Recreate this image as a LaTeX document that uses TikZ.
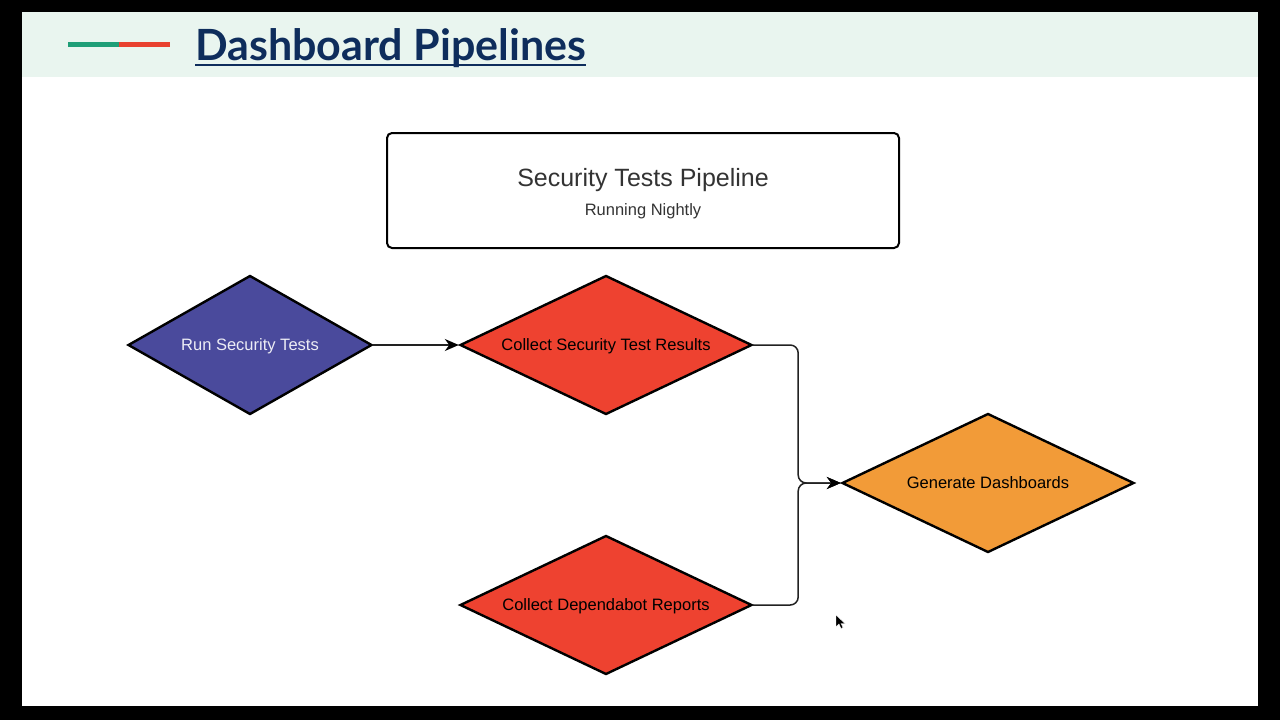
\documentclass[tikz,border=0pt]{standalone}
\usepackage{fontspec}
\setmainfont{Liberation Sans}
\newfontfamily\titlefont{Lato}
\usetikzlibrary{shapes.geometric,arrows.meta,calc}
\definecolor{bandbg}{HTML}{E9F5EF}
\definecolor{navy}{HTML}{0E2D5C}
\definecolor{lgreen}{HTML}{1E9E77}
\definecolor{lred}{HTML}{E8412F}
\definecolor{slateblue}{HTML}{4A4A9C}
\definecolor{redfill}{HTML}{EE4230}
\definecolor{orangefill}{HTML}{F29B38}
\definecolor{txtgray}{HTML}{333333}
\definecolor{linegray}{HTML}{222222}
\tikzset{
  dstep/.style={diamond, aspect=2.1, draw=black, line width=2.4pt, inner sep=0pt,
    minimum width=292pt, minimum height=139pt, text depth=0pt,
    font=\fontsize{16.5}{19}\selectfont},
  conn/.style={draw=linegray, line width=1.5pt, rounded corners=8pt,
    -{Stealth[length=14pt,width=12pt,inset=4.5pt,black]}},
  titlebox/.style={draw=black, line width=2pt, rounded corners=5pt,
    minimum width=512pt, minimum height=115pt}
}
\begin{document}
\begin{tikzpicture}[x=1pt,y=-1pt]
\useasboundingbox (0,0) rectangle (1280,720);
\fill[black] (0,0) rectangle (1280,720);
\fill[white] (22,12) rectangle (1258,706);
\fill[bandbg] (22,12) rectangle (1258,77);
% accent line
\fill[lgreen] (68,42) rectangle (119,47);
\fill[lred] (119,42) rectangle (170,47);
% title
\node[anchor=base west, inner sep=0pt, text=navy,
  font=\titlefont\bfseries\fontsize{43}{46}\selectfont] (title) at (195,60) {Dashboard Pipelines};
\draw[navy, line width=2.2pt] ($(title.base west)+(0,5)$) -- ($(title.base east)+(0,5)$);
% pipeline box
\node[titlebox] (box) at (643,190.5) {};
\node[text=txtgray, text depth=0pt, font=\fontsize{25}{28}\selectfont] (boxt) at (643,177) {Security Tests Pipeline};
\node[text=txtgray, text depth=0pt, font=\fontsize{16.5}{19}\selectfont] (boxs) at (643,210) {Running Nightly};
% diamonds
\node[dstep, fill=slateblue, text=white!90!slateblue, minimum width=244pt] (run) at (250,345) {Run Security Tests};
\node[dstep, fill=redfill] (crst) at (606,345) {Collect Security Test Results};
\node[dstep, fill=redfill] (cdep) at (606,605) {Collect Dependabot Reports};
\node[dstep, fill=orangefill] (gen) at (988,483) {Generate Dashboards};
% connectors
\draw[conn] (run.east) -- (crst.west);
\draw[conn] (crst.east) -- ++(45,0) |- (gen.west);
\draw[conn] (cdep.east) -- ++(45,0) |- (gen.west);
% mouse cursor
\filldraw[fill=black, draw=white, line width=0.4pt] (836,615) -- (836,627) -- (839,624) -- (841,628.5) -- (843,627.5) -- (841,623.5) -- (845,623.5) -- cycle;
\end{tikzpicture}
\end{document}
